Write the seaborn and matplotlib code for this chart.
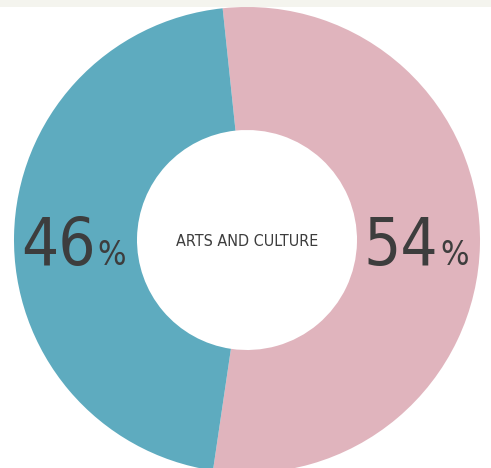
import numpy as np
import matplotlib
matplotlib.use("Agg")
import matplotlib.pyplot as plt
import seaborn as sns
from matplotlib import font_manager
from matplotlib.patches import Rectangle

# data
labels = ["54", "46"]
values = [54, 46]
colors = ["#e0b4bd", "#5eabbf"]
center_label = "ARTS AND CULTURE"

sns.set_theme(style="white")
plt.rcParams['font.family'] = ['DejaVu Sans']

# look for a narrow face among the installed fonts
narrow = None
for f in font_manager.fontManager.ttflist:
    n = (f.name + " " + f.fname).lower()
    if ("narrow" in n or "condensed" in n) and f.weight in (400, "normal", "regular") \
            and f.style == "normal":
        narrow = f.fname
        break

if narrow:
    fp = font_manager.FontProperties(fname=narrow)
    big, small, mid = 47, 24, 11.5
else:
    fp = font_manager.FontProperties(family="DejaVu Sans")
    big, small, mid = 33, 16, 9

W, H = 491, 468
fig = plt.figure(figsize=(W / 100, H / 100), dpi=100)
fig.patch.set_facecolor("white")

# light strip along the top
fig.patches.append(Rectangle((0, 1 - 7 / H), 1, 7 / H, transform=fig.transFigure,
                             facecolor="#f4f4ee", edgecolor="none", zorder=0))

# pie axes: center (247, 240) px, radius 233 px
r = 233
cx, cy = 247, 240
ax = fig.add_axes([(cx - r) / W, (H - cy - r) / H, 2 * r / W, 2 * r / H])

hole = 110 / r
width = 1 - hole
wedges, _ = ax.pie(values, colors=colors, startangle=96, counterclock=False,
                   radius=1, wedgeprops=dict(width=width, edgecolor="none"))
ax.set_xlim(-1, 1)
ax.set_ylim(-1, 1)
ax.axis("off")

text_color = "#3d3d3d"
mid_r = (1 + hole) / 2
base_y = -25 / r  # baseline of the percentage labels
for w, lab in zip(wedges, labels):
    ang = np.deg2rad((w.theta1 + w.theta2) / 2)
    x = mid_r * np.cos(ang)
    ax.annotate(lab, (x, base_y), xytext=(20, 0), textcoords="offset pixels",
                ha="right", va="baseline", fontproperties=fp, fontsize=big, color=text_color)
    ax.annotate("%", (x, base_y), xytext=(22, 0), textcoords="offset pixels",
                ha="left", va="baseline", fontproperties=fp, fontsize=small, color=text_color)

ax.text(0, -0.005, center_label, ha="center", va="center", fontproperties=fp,
        fontsize=mid, color=text_color)

fig.savefig("out.png", dpi=100)
